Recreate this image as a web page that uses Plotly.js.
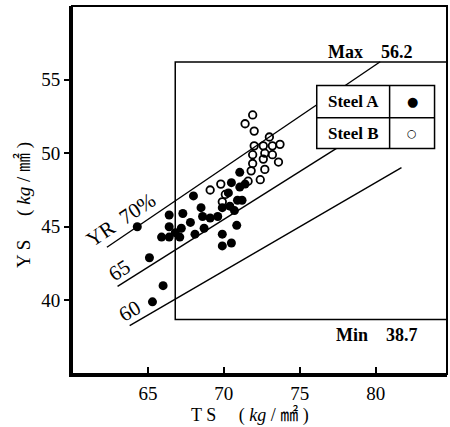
<!DOCTYPE html>
<html><head><meta charset="utf-8">
<script src="https://cdn.plot.ly/plotly-3.0.1.min.js"></script>
<style>html,body{margin:0;padding:0;background:#fff}#chart{width:450px;height:427px}</style>
</head><body><div id="chart"></div>
<script>
// Steel A (filled circles)
const tsSteelA = [64.3,65.1,66.0,65.3,65.9,66.4,66.4,66.4,66.8,67.1,67.2,67.3,67.8,68.0,68.1,68.5,68.6,68.7,69.1,69.6,69.9,70.4,70.7,70.9,71.2,70.85,69.9,69.9,70.5,70.3,70.5,71.05,71.05,71.4];
const ysSteelA = [45.0,42.9,41.0,39.9,44.3,44.3,45.0,45.8,44.6,44.3,44.9,45.9,45.3,47.1,44.5,46.3,45.7,44.9,45.6,45.7,46.3,46.4,46.1,46.8,46.8,45.1,44.5,43.7,43.9,47.3,48.0,48.7,47.7,47.9];
// Steel B (open circles)
const tsSteelB = [71.9,71.4,72.0,73.0,72.0,72.6,73.2,73.7,71.9,72.7,73.2,71.9,72.6,73.6,71.8,72.7,72.4,71.6,69.1,69.8,70.1,69.9];
const ysSteelB = [52.6,52.0,51.5,51.1,50.5,50.5,50.5,50.6,49.9,50.0,49.9,49.3,49.6,49.4,48.8,48.9,48.2,48.1,47.5,47.9,47.2,46.7];
// yield ratio guide lines
const yrRatios = [0.70, 0.65, 0.60];
const yrLabels = ["YR 70%", "65", "60"];
const yrStartTS = [62.3, 63.0, 63.8];
const yrEndTS = [80.3, 81.0, 81.7];
// specification limits
const specMaxYS = 56.2, specMinYS = 38.7, specMinTS = 66.8;
const xTicks = [65, 70, 75, 80];
const yTicks = [40, 45, 50, 55];
const X_RANGE = [60, 84.7], Y_RANGE = [35, 60];

const SERIF = "Liberation Serif, Times New Roman, serif";
const JP = "Liberation Serif, Noto Sans CJK JP, serif";

const traces = [];
yrRatios.forEach((r, i) => {
  traces.push({x: [yrStartTS[i], yrEndTS[i]], y: [r*yrStartTS[i], r*yrEndTS[i]],
    mode: 'lines', line: {color: '#000', width: 1.4}, hoverinfo: 'skip', showlegend: false});
});
traces.push({x: [X_RANGE[1], specMinTS, specMinTS, X_RANGE[1]], y: [specMaxYS, specMaxYS, specMinYS, specMinYS],
  mode: 'lines', line: {color: '#000', width: 1.5}, hoverinfo: 'skip', showlegend: false});
traces.push({x: tsSteelA, y: ysSteelA, mode: 'markers', name: 'Steel A',
  marker: {symbol: 'circle', size: 9, color: '#000'}, showlegend: false});
traces.push({x: tsSteelB, y: ysSteelB, mode: 'markers', name: 'Steel B',
  marker: {symbol: 'circle-open', size: 7.5, color: '#000', line: {width: 1.8, color: '#000'}}, showlegend: false});

const lgX0 = 76.12, lgX1 = 83.88, lgXm = 80.92, lgY0 = 50.32, lgY1 = 54.6, lgYm = 52.4;

const layout = {
  width: 450, height: 427,
  margin: {l: 72, r: 3, t: 6, b: 53},
  paper_bgcolor: '#fff', plot_bgcolor: '#fff',
  xaxis: {range: X_RANGE, tickvals: xTicks, ticks: 'inside', ticklen: 7, tickwidth: 2, tickcolor: '#000',
    showline: true, linewidth: 3, linecolor: '#000', showgrid: false, zeroline: false,
    tickfont: {family: SERIF, size: 19, color: '#000'}},
  yaxis: {range: Y_RANGE, tickvals: yTicks, ticks: 'outside', ticklen: 5, tickwidth: 2, tickcolor: '#000',
    showline: true, linewidth: 3, linecolor: '#000', showgrid: false, zeroline: false,
    tickfont: {family: SERIF, size: 19, color: '#000'}},
  yaxis2: {range: Y_RANGE, overlaying: 'y', side: 'left', tickvals: yTicks, ticks: 'inside', ticklen: 8, tickwidth: 2,
    tickcolor: '#000', showline: false, showgrid: false, zeroline: false, showticklabels: false},
  shapes: [
    {type: 'rect', xref: 'paper', yref: 'paper', x0: 0, x1: 1, y0: 0, y1: 1, line: {color: '#000', width: 2}},
    {type: 'rect', xref: 'x', yref: 'y', x0: lgX0, x1: lgX1, y0: lgY0, y1: lgY1, fillcolor: '#fff', layer: 'above', line: {color: '#000', width: 1.5}},
    {type: 'line', xref: 'x', yref: 'y', x0: lgXm, x1: lgXm, y0: lgY0, y1: lgY1, layer: 'above', line: {color: '#000', width: 1.5}},
    {type: 'line', xref: 'x', yref: 'y', x0: lgX0, x1: lgX1, y0: lgYm, y1: lgYm, layer: 'above', line: {color: '#000', width: 1.5}}
  ],
  annotations: [
    {xref: 'paper', yref: 'paper', x: -0.13, y: 0.46, text: 'Y S　 ( <i>kg</i> / ㎟ )', textangle: -90, showarrow: false,
      font: {family: JP, size: 19, color: '#000'}, xanchor: 'center', yanchor: 'middle'},
    {xref: 'paper', yref: 'paper', x: 0.475, y: -0.112, text: 'T S　 ( <i>kg</i> / ㎟ )', showarrow: false,
      font: {family: JP, size: 18, color: '#000'}, xanchor: 'center', yanchor: 'middle'},
    {xref: 'x', yref: 'y', x: 63.2, y: 45.45, text: yrLabels[0].replace(' ', '  '), textangle: -34, showarrow: false,
      font: {family: SERIF, size: 21, color: '#000'}},
    {xref: 'x', yref: 'y', x: 63.16, y: 42.04, text: yrLabels[1], textangle: -32, showarrow: false,
      font: {family: SERIF, size: 21, color: '#000'}},
    {xref: 'x', yref: 'y', x: 63.8, y: 39.3, text: yrLabels[2], textangle: -30, showarrow: false,
      font: {family: SERIF, size: 21, color: '#000'}},
    {xref: 'x', yref: 'y', x: 79.67, y: 56.9, text: '<b>Max　56.2</b>', showarrow: false,
      font: {family: SERIF, size: 18, color: '#000'}},
    {xref: 'x', yref: 'y', x: 80.1, y: 37.65, text: '<b>Min　38.7</b>', showarrow: false,
      font: {family: SERIF, size: 18, color: '#000'}},
    {xref: 'x', yref: 'y', x: (lgX0+lgXm)/2, y: (lgYm+lgY1)/2, text: '<b>Steel A</b>', showarrow: false,
      font: {family: SERIF, size: 17, color: '#000'}},
    {xref: 'x', yref: 'y', x: (lgX0+lgXm)/2, y: (lgY0+lgYm)/2, text: '<b>Steel B</b>', showarrow: false,
      font: {family: SERIF, size: 17, color: '#000'}},
    {xref: 'x', yref: 'y', x: (lgXm+lgX1)/2, y: (lgYm+lgY1)/2, text: '●', showarrow: false,
      font: {family: 'DejaVu Sans', size: 13, color: '#000'}},
    {xref: 'x', yref: 'y', x: (lgXm+lgX1)/2, y: (lgY0+lgYm)/2, text: '○', showarrow: false,
      font: {family: 'DejaVu Sans', size: 11, color: '#000'}}
  ],
  showlegend: false
};

Plotly.newPlot('chart', traces, layout, {staticPlot: true, displayModeBar: false});
</script>
</body></html>
